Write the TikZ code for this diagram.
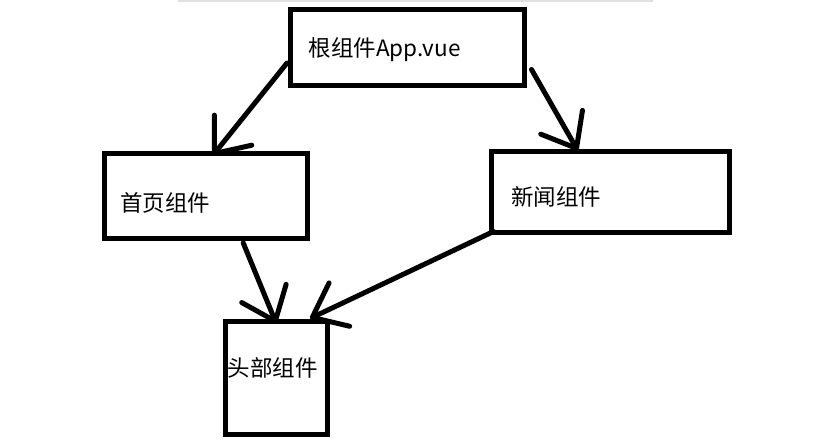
\documentclass[tikz,border=0pt]{standalone}
\usepackage{fontspec}
\setmainfont{Noto Sans CJK SC}
\usetikzlibrary{arrows.meta,positioning}

\tikzset{
  comp/.style={draw,line width=5pt,inner sep=0pt,outer sep=0pt},
  lbl/.style={inner sep=0pt,font=\fontsize{22.5}{26}\selectfont},
  wire/.style={->,line width=5pt,line cap=round}
}

\begin{document}
\begin{tikzpicture}[x=1pt,y=-1pt,>={Straight Barb[length=30pt,width=48pt,round]}]
  \useasboundingbox (0,0) rectangle (827,447);
  \draw[line width=1.5pt,black!12] (178,0.8) -- (653,0.8);
  % boxes
  \node[comp,minimum width=234pt,minimum height=76pt] (root) at (407.5,47.5) {};
  \node[comp,minimum width=203.5pt,minimum height=84.5pt] (home) at (205.75,195.75) {};
  \node[comp,minimum width=237.5pt,minimum height=81pt] (news) at (610.25,192) {};
  \node[comp,minimum width=102.5pt,minimum height=112.5pt] (head) at (276.25,377.75) {};
  % texts
  \node[lbl,right=18pt of root.west,yshift=-2.5pt] (rootlbl) {根组件App.vue};
  \node[lbl,right=16pt of home.west,yshift=-7pt] (homelbl) {首页组件};
  \node[lbl,right=19.5pt of news.west,yshift=-4.7pt] (newslbl) {新闻组件};
  \node[lbl,right=2.5pt of head.west,yshift=9.75pt] (headlbl) {头部组件};
  % arrows
  \draw[wire] ([shift={(-3.5,15.5)}]root.west) -- ([shift={(7,2)}]home.north);
  \draw[wire] ([shift={(7,22)}]root.east) -- ([shift={(-32.5,-1)}]news.north);
  \draw[wire] ([shift={(37.5,5)}]home.south) -- ([shift={(0,2)}]head.north);
  \draw[wire] ([shift={(2,-1)}]news.south west) -- ([shift={(-17.5,-3)}]head.north east);
\end{tikzpicture}
\end{document}
